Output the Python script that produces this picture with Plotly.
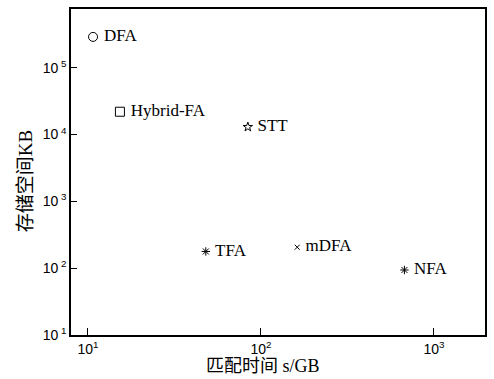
import plotly.graph_objects as go

names = ["DFA", "Hybrid-FA", "STT", "TFA", "mDFA", "NFA"]
match_time = [10.7, 15.3, 84, 48, 162, 675]      # s/GB
storage_kb = [2.9e5, 2.2e4, 1.3e4, 178, 206, 94]   # KB
symbols = ["circle-open", "square-open", "star-open", "asterisk-open", "x-thin-open", "asterisk-open"]
sizes = [9, 9, 7, 7, 5, 7]

x_tickvals = [10, 100, 1000]
x_ticktext = ["10<sup>1</sup>", "10<sup>2</sup>", "10<sup>3</sup>"]
y_tickvals = [10, 100, 1000, 1e4, 1e5]
y_ticktext = ["10<sup> 1</sup>", "10<sup> 2</sup>", "10<sup> 3</sup>", "10<sup> 4</sup>", "10<sup> 5</sup>"]

fig = go.Figure()
for n, x, y, s, sz in zip(names, match_time, storage_kb, symbols, sizes):
    fig.add_trace(go.Scatter(
        x=[x], y=[y], mode="markers+text", text=[" " + n], textposition="middle right",
        textfont=dict(family="Liberation Serif", size=17, color="black"),
        marker=dict(symbol=s, size=sz, color="black", line=dict(width=1, color="black")),
        showlegend=False, cliponaxis=False))

axis_common = dict(type="log", showgrid=False, zeroline=False, ticks="inside",
                   showline=True, linecolor="black", linewidth=1.5, mirror=True,
                   tickcolor="black", tickwidth=1, automargin=False,
                   tickfont=dict(family="Liberation Sans", size=14, color="black"))

fig.update_xaxes(**axis_common, range=[0.902, 3.295], tickvals=x_tickvals, ticktext=x_ticktext,
                 ticklen=7)
fig.update_yaxes(**axis_common, range=[1, 5.88], tickvals=y_tickvals, ticktext=y_ticktext,
                 ticklen=6)

title_font = dict(family="Liberation Serif, Noto Sans CJK SC", size=18, color="black")
fig.add_annotation(text="匹配时间 s/GB", xref="paper", yref="paper", x=0.464, y=0,
                   yshift=-19, xanchor="center", yanchor="top", showarrow=False, font=title_font)
fig.add_annotation(text="存储空间KB", xref="paper", yref="paper", x=0, y=0.47,
                   xshift=-33, xanchor="right", yanchor="middle", textangle=-90,
                   showarrow=False, font=dict(family="Liberation Serif, Noto Sans CJK SC", size=19, color="black"))

fig.update_layout(width=494, height=379, margin=dict(l=71, r=9, t=9, b=44, autoexpand=False),
                  plot_bgcolor="white", paper_bgcolor="white")

fig.write_html("out.html", config={"displayModeBar": False},
               post_script="document.body.style.margin='0';")
